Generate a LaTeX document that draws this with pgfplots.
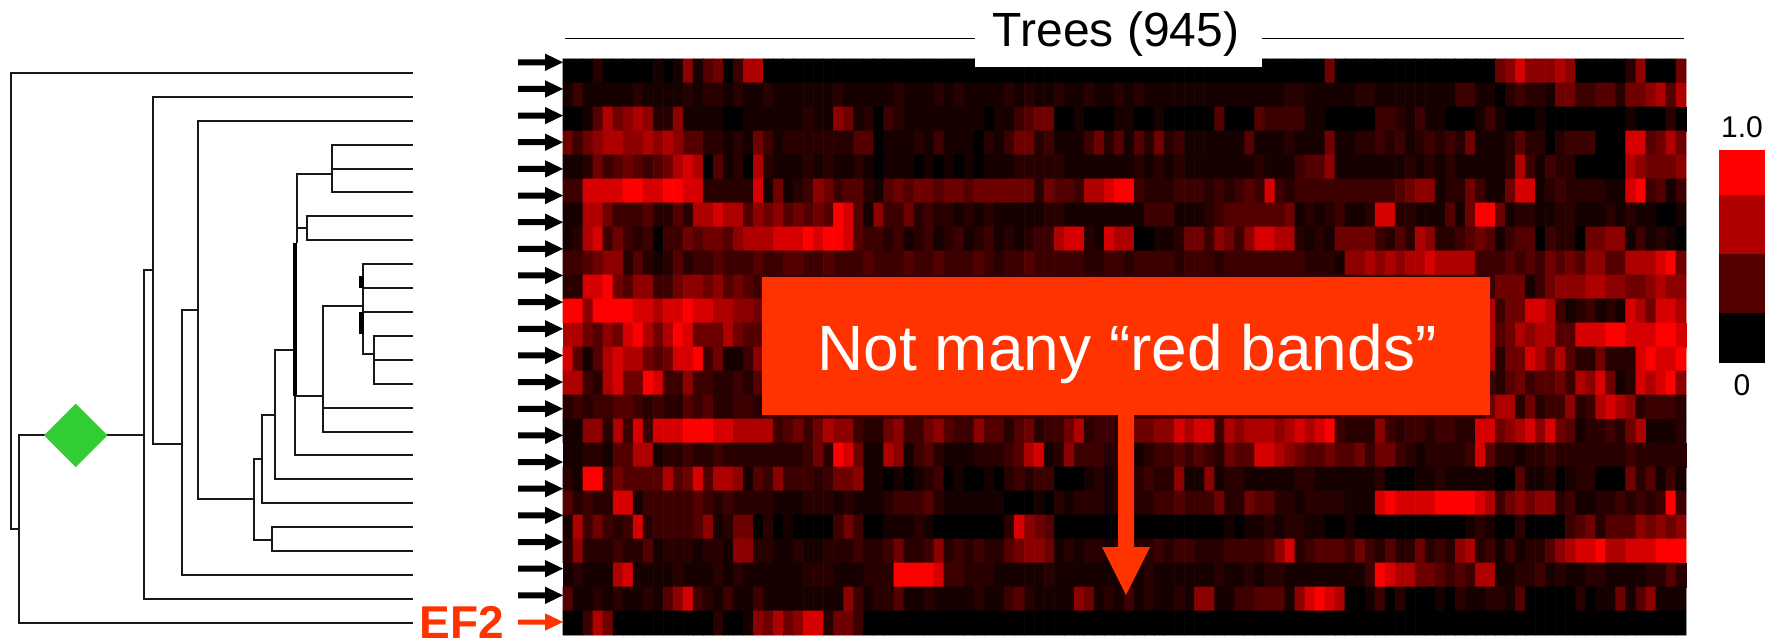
\documentclass[border=0pt]{standalone}
\usepackage{fontspec}
\setmainfont{Liberation Sans}
\usepackage{pgfplots}
\pgfplotsset{compat=1.18}
\definecolor{callout}{RGB}{255,51,0}
\definecolor{diamondgreen}{RGB}{50,205,50}
\pgfplotsset{
    tree/.style={black!90, line width=1pt, no marks, line join=miter},
    thick branch/.style={black, line width=2.2pt, no marks},
    block/.style={draw=none, no marks},
}
\newcommand{\fs}[1]{\fontsize{#1}{#1}\selectfont}
\begin{document}
\begin{tikzpicture}
\path[use as bounding box] (0,0) rectangle (887.5pt,320.5pt);
% 1 unit = 1 pixel of the reference, y runs downwards
\begin{axis}[
    at={(0,0)}, anchor=south west,
    scale only axis, width=887.5pt, height=320.5pt,
    xmin=0, xmax=1775, ymin=0, ymax=641,
    y dir=reverse,
    hide axis, clip=false,
    colormap={blackred}{rgb255(0cm)=(0,0,0) rgb255(1cm)=(22,0,0) rgb255(2cm)=(40,0,0) rgb255(3cm)=(60,0,0) rgb255(4cm)=(85,0,0) rgb255(5cm)=(110,0,0) rgb255(6cm)=(140,0,0) rgb255(7cm)=(175,0,0) rgb255(8cm)=(215,0,0) rgb255(9cm)=(255,0,0)},
    point meta min=0, point meta max=9,
]
% heatmap: 24 rows of 112 binned columns, values 0-9
\addplot[matrix plot*, mesh/cols=112, point meta=explicit, draw=mapped color, line width=0.4pt] table[
    row sep=\\, meta=z,
    x expr={563+(mod(\coordindex,112)+0.5)*10.027},
    y expr={59+(floor(\coordindex/112)+0.5)*24},
] {z\\
0\\0\\0\\2\\0\\0\\0\\0\\0\\1\\0\\1\\6\\1\\4\\5\\0\\3\\7\\7\\0\\0\\0\\0\\0\\0\\0\\0\\0\\0\\0\\0\\0\\0\\0\\0\\0\\0\\0\\0\\0\\0\\0\\0\\0\\0\\0\\0\\0\\0\\0\\0\\0\\0\\0\\0\\0\\0\\0\\0\\0\\0\\0\\0\\0\\0\\0\\0\\0\\0\\0\\0\\0\\0\\0\\0\\5\\0\\0\\0\\0\\0\\0\\0\\0\\0\\0\\0\\0\\0\\0\\0\\0\\5\\6\\8\\6\\6\\6\\7\\6\\0\\0\\0\\0\\0\\2\\6\\0\\0\\0\\5\\
1\\3\\1\\1\\1\\1\\1\\2\\1\\1\\1\\1\\2\\1\\2\\2\\1\\2\\1\\1\\2\\1\\1\\1\\1\\1\\1\\2\\1\\1\\1\\1\\1\\2\\1\\1\\1\\2\\1\\2\\1\\1\\1\\1\\2\\1\\2\\1\\1\\2\\1\\1\\2\\1\\1\\2\\1\\2\\1\\1\\1\\1\\1\\1\\1\\1\\1\\1\\1\\1\\1\\1\\2\\2\\1\\1\\1\\1\\1\\2\\2\\1\\1\\1\\1\\1\\1\\1\\1\\3\\3\\1\\1\\0\\2\\3\\2\\2\\1\\5\\5\\3\\3\\4\\4\\2\\5\\5\\6\\7\\4\\7\\
0\\0\\1\\4\\7\\5\\6\\7\\6\\2\\2\\6\\1\\1\\1\\1\\0\\0\\1\\1\\1\\1\\1\\1\\2\\1\\1\\6\\5\\1\\2\\0\\3\\2\\1\\1\\1\\1\\1\\1\\1\\1\\0\\1\\1\\3\\4\\5\\5\\0\\0\\1\\0\\0\\0\\1\\1\\0\\0\\1\\0\\0\\0\\0\\0\\4\\0\\0\\0\\4\\3\\3\\3\\3\\1\\1\\0\\0\\0\\0\\0\\3\\3\\2\\1\\3\\1\\1\\0\\0\\0\\1\\3\\1\\0\\0\\0\\1\\0\\0\\0\\0\\0\\0\\0\\0\\1\\0\\0\\0\\2\\0\\
5\\3\\5\\6\\7\\7\\6\\6\\7\\6\\7\\6\\4\\4\\2\\2\\1\\2\\1\\5\\3\\1\\2\\2\\2\\2\\2\\2\\2\\4\\4\\0\\1\\1\\1\\2\\1\\3\\1\\1\\1\\0\\2\\1\\3\\5\\5\\2\\3\\1\\1\\1\\3\\5\\2\\4\\1\\4\\2\\5\\2\\3\\1\\1\\1\\1\\1\\1\\4\\1\\1\\1\\2\\1\\1\\1\\5\\1\\1\\2\\2\\3\\2\\3\\1\\2\\3\\2\\3\\2\\5\\1\\1\\1\\2\\4\\2\\2\\0\\2\\3\\3\\3\\0\\0\\0\\8\\8\\4\\5\\7\\5\\
1\\1\\2\\5\\3\\4\\5\\4\\3\\4\\5\\7\\8\\7\\0\\4\\1\\2\\0\\7\\2\\1\\1\\1\\2\\1\\2\\1\\1\\2\\1\\0\\1\\1\\1\\0\\1\\0\\1\\0\\1\\0\\1\\1\\1\\2\\2\\2\\2\\2\\1\\1\\1\\1\\1\\1\\1\\2\\1\\2\\1\\2\\1\\1\\1\\1\\1\\1\\1\\2\\1\\1\\1\\3\\4\\4\\6\\1\\1\\1\\1\\1\\1\\1\\2\\1\\2\\1\\2\\1\\1\\1\\1\\1\\2\\7\\3\\1\\3\\2\\2\\0\\0\\0\\0\\0\\7\\6\\5\\5\\5\\6\\
3\\3\\8\\8\\8\\8\\9\\9\\8\\8\\9\\9\\8\\8\\2\\2\\2\\2\\2\\8\\1\\5\\1\\2\\3\\6\\5\\3\\4\\4\\2\\1\\4\\5\\4\\5\\5\\4\\5\\5\\4\\5\\5\\5\\5\\5\\5\\2\\5\\4\\4\\3\\7\\7\\8\\9\\9\\3\\2\\2\\2\\3\\3\\3\\2\\3\\2\\3\\4\\3\\8\\3\\2\\3\\3\\3\\3\\3\\3\\3\\3\\3\\3\\4\\5\\6\\6\\1\\2\\2\\5\\3\\1\\1\\5\\8\\8\\1\\2\\3\\2\\2\\2\\2\\1\\1\\8\\9\\3\\4\\1\\3\\
1\\1\\7\\7\\5\\3\\3\\3\\4\\2\\2\\4\\2\\7\\7\\8\\7\\7\\4\\6\\5\\6\\4\\5\\4\\5\\4\\9\\8\\4\\1\\6\\3\\3\\5\\2\\3\\2\\2\\1\\2\\1\\2\\1\\1\\1\\1\\1\\2\\2\\1\\1\\1\\1\\1\\1\\1\\1\\3\\3\\3\\1\\1\\1\\2\\3\\4\\4\\4\\4\\4\\4\\5\\1\\2\\1\\2\\3\\1\\1\\2\\8\\8\\2\\2\\1\\1\\1\\4\\1\\5\\9\\9\\5\\1\\2\\2\\1\\1\\2\\2\\1\\1\\1\\2\\1\\2\\1\\1\\0\\0\\1\\
1\\2\\7\\8\\3\\5\\3\\2\\3\\0\\3\\3\\5\\4\\5\\5\\4\\6\\7\\7\\7\\8\\8\\8\\9\\8\\9\\9\\8\\4\\3\\3\\2\\3\\1\\2\\3\\1\\2\\3\\1\\2\\3\\1\\2\\1\\2\\3\\3\\7\\8\\8\\2\\1\\8\\7\\7\\0\\0\\1\\1\\2\\5\\5\\3\\6\\5\\3\\6\\8\\8\\7\\7\\2\\1\\2\\1\\5\\5\\5\\5\\3\\2\\4\\2\\7\\6\\2\\2\\3\\4\\5\\4\\1\\3\\4\\4\\0\\3\\2\\2\\0\\5\\5\\6\\6\\1\\3\\1\\2\\1\\0\\
3\\3\\4\\5\\6\\6\\2\\4\\2\\1\\2\\4\\2\\3\\3\\4\\3\\3\\3\\4\\3\\3\\4\\4\\3\\3\\4\\3\\3\\3\\4\\3\\3\\3\\4\\3\\3\\4\\3\\3\\3\\4\\3\\2\\3\\3\\4\\3\\3\\3\\3\\3\\2\\2\\3\\3\\2\\3\\3\\3\\3\\2\\3\\3\\3\\2\\3\\3\\3\\3\\3\\3\\3\\3\\2\\2\\2\\1\\6\\6\\7\\6\\7\\6\\7\\7\\8\\7\\7\\7\\7\\3\\3\\3\\4\\3\\4\\3\\5\\4\\5\\4\\6\\6\\4\\4\\7\\7\\7\\8\\9\\5\\
2\\2\\8\\8\\9\\5\\4\\6\\6\\3\\3\\5\\6\\6\\5\\6\\4\\5\\4\\3\\3\\3\\3\\3\\3\\3\\3\\3\\3\\3\\3\\3\\3\\3\\3\\3\\3\\3\\3\\3\\3\\3\\3\\3\\3\\3\\3\\3\\3\\3\\3\\3\\3\\3\\3\\3\\3\\3\\3\\3\\3\\3\\3\\3\\3\\3\\3\\3\\3\\3\\3\\3\\3\\3\\3\\3\\3\\3\\3\\3\\3\\3\\3\\3\\3\\3\\3\\3\\3\\3\\3\\3\\3\\5\\5\\5\\1\\3\\5\\6\\6\\6\\7\\7\\6\\6\\5\\5\\6\\7\\6\\6\\
9\\9\\6\\9\\9\\9\\9\\8\\8\\7\\8\\8\\9\\8\\8\\7\\7\\6\\6\\5\\3\\3\\3\\3\\3\\3\\3\\3\\3\\3\\3\\3\\3\\3\\3\\3\\3\\3\\3\\3\\3\\3\\3\\3\\3\\3\\3\\3\\3\\3\\3\\3\\3\\3\\3\\3\\3\\3\\3\\3\\3\\3\\3\\3\\3\\3\\3\\3\\3\\3\\3\\3\\3\\3\\3\\3\\3\\3\\3\\3\\3\\3\\3\\3\\3\\3\\3\\3\\3\\3\\3\\3\\7\\3\\5\\5\\8\\8\\7\\3\\1\\2\\3\\1\\2\\1\\8\\7\\5\\8\\8\\7\\
7\\7\\5\\4\\6\\5\\8\\9\\7\\5\\7\\9\\8\\5\\5\\5\\7\\5\\4\\4\\3\\3\\3\\3\\3\\3\\3\\3\\3\\3\\3\\3\\3\\3\\3\\3\\3\\3\\3\\3\\3\\3\\3\\3\\3\\3\\3\\3\\3\\3\\3\\3\\3\\3\\3\\3\\3\\3\\3\\3\\3\\3\\3\\3\\3\\3\\3\\3\\3\\3\\3\\3\\3\\3\\3\\3\\3\\3\\3\\3\\3\\3\\3\\3\\3\\3\\3\\3\\3\\3\\3\\3\\7\\4\\5\\7\\6\\7\\7\\4\\4\\8\\8\\8\\9\\9\\8\\8\\8\\9\\9\\8\\
8\\4\\1\\4\\7\\8\\7\\7\\5\\4\\5\\8\\8\\9\\3\\5\\1\\1\\3\\6\\3\\3\\3\\3\\3\\3\\3\\3\\3\\3\\3\\3\\3\\3\\3\\3\\3\\3\\3\\3\\3\\3\\3\\3\\3\\3\\3\\3\\3\\3\\3\\3\\3\\3\\3\\3\\3\\3\\3\\3\\3\\3\\3\\3\\3\\3\\3\\3\\3\\3\\3\\3\\3\\3\\3\\3\\3\\3\\3\\3\\3\\3\\3\\3\\3\\3\\3\\3\\3\\3\\3\\3\\7\\2\\5\\5\\8\\7\\5\\7\\4\\2\\2\\5\\2\\2\\2\\8\\9\\8\\8\\9\\
7\\7\\3\\2\\7\\8\\5\\5\\9\\8\\3\\3\\6\\3\\3\\2\\2\\3\\2\\4\\3\\3\\3\\3\\3\\3\\3\\3\\3\\3\\3\\3\\3\\3\\3\\3\\3\\3\\3\\3\\3\\3\\3\\3\\3\\3\\3\\3\\3\\3\\3\\3\\3\\3\\3\\3\\3\\3\\3\\3\\3\\3\\3\\3\\3\\3\\3\\3\\3\\3\\3\\3\\3\\3\\3\\3\\3\\3\\3\\3\\3\\3\\3\\3\\3\\3\\3\\3\\3\\3\\3\\3\\3\\2\\4\\5\\3\\4\\4\\5\\3\\7\\6\\8\\5\\1\\2\\8\\7\\8\\9\\6\\
2\\3\\2\\3\\3\\4\\4\\3\\2\\3\\2\\2\\4\\3\\4\\2\\2\\3\\3\\2\\3\\3\\3\\3\\3\\3\\3\\3\\3\\3\\3\\3\\3\\3\\3\\3\\3\\3\\3\\3\\3\\3\\3\\3\\3\\3\\3\\3\\3\\3\\3\\3\\3\\3\\3\\3\\3\\3\\3\\3\\3\\3\\3\\3\\3\\3\\3\\3\\3\\3\\3\\3\\3\\3\\3\\3\\3\\3\\3\\3\\3\\3\\3\\3\\3\\3\\3\\3\\3\\3\\3\\3\\5\\7\\7\\2\\5\\2\\3\\3\\6\\2\\3\\7\\8\\7\\6\\2\\3\\3\\3\\2\\
1\\1\\6\\6\\2\\7\\3\\8\\3\\8\\8\\8\\9\\9\\9\\8\\8\\7\\7\\7\\7\\3\\4\\5\\3\\5\\7\\6\\6\\3\\2\\2\\5\\6\\3\\3\\5\\6\\4\\3\\3\\6\\4\\4\\2\\4\\5\\2\\3\\3\\5\\7\\2\\3\\3\\2\\3\\5\\5\\6\\6\\8\\7\\8\\8\\3\\7\\6\\7\\7\\7\\6\\7\\8\\7\\8\\9\\3\\2\\2\\2\\6\\3\\2\\3\\3\\2\\3\\3\\2\\2\\8\\8\\5\\6\\7\\8\\6\\8\\5\\4\\1\\2\\2\\3\\2\\5\\7\\1\\1\\1\\2\\
1\\1\\2\\2\\1\\4\\4\\7\\7\\1\\2\\2\\3\\2\\2\\3\\2\\2\\2\\2\\2\\2\\2\\2\\3\\5\\2\\9\\8\\5\\1\\1\\7\\6\\1\\3\\4\\2\\1\\1\\1\\2\\2\\2\\3\\4\\7\\8\\1\\2\\6\\3\\3\\3\\2\\2\\2\\1\\2\\3\\3\\4\\3\\4\\3\\2\\5\\4\\4\\8\\8\\7\\6\\5\\4\\4\\5\\4\\4\\5\\3\\5\\5\\3\\2\\1\\2\\2\\2\\2\\3\\8\\4\\2\\2\\1\\2\\2\\3\\2\\2\\2\\2\\2\\2\\2\\3\\2\\2\\2\\2\\2\\
2\\1\\9\\9\\3\\5\\4\\4\\4\\4\\7\\4\\5\\8\\4\\7\\7\\6\\1\\4\\3\\6\\3\\3\\3\\2\\3\\5\\5\\6\\1\\1\\0\\1\\0\\1\\2\\3\\0\\1\\0\\0\\1\\0\\2\\3\\2\\3\\3\\0\\0\\0\\1\\2\\1\\2\\2\\2\\3\\2\\2\\6\\1\\1\\6\\1\\2\\2\\1\\1\\1\\1\\1\\2\\2\\1\\1\\1\\1\\1\\1\\2\\0\\0\\0\\1\\1\\2\\1\\1\\1\\1\\1\\0\\0\\4\\1\\1\\2\\0\\1\\2\\2\\0\\0\\0\\5\\2\\4\\1\\3\\1\\
4\\2\\3\\2\\2\\8\\8\\1\\3\\3\\3\\3\\3\\4\\3\\2\\3\\2\\2\\2\\2\\1\\1\\1\\2\\2\\2\\1\\2\\1\\1\\1\\2\\3\\3\\3\\4\\2\\1\\1\\1\\1\\1\\1\\0\\0\\0\\1\\0\\2\\1\\2\\2\\2\\1\\2\\3\\2\\2\\3\\3\\4\\3\\3\\3\\5\\2\\2\\5\\4\\4\\2\\2\\1\\2\\2\\2\\2\\1\\1\\1\\8\\9\\8\\8\\8\\8\\9\\9\\9\\9\\8\\7\\3\\5\\6\\5\\6\\6\\2\\3\\1\\1\\2\\2\\3\\2\\3\\2\\3\\9\\3\\
1\\7\\3\\5\\3\\2\\3\\8\\2\\3\\3\\3\\3\\4\\6\\1\\2\\5\\5\\0\\2\\0\\1\\0\\0\\0\\0\\3\\5\\3\\0\\0\\1\\1\\1\\2\\1\\0\\0\\0\\0\\0\\0\\0\\2\\8\\6\\5\\4\\0\\0\\0\\0\\0\\0\\0\\0\\0\\0\\0\\0\\0\\0\\0\\0\\0\\1\\0\\1\\1\\2\\1\\2\\2\\1\\1\\0\\0\\1\\0\\0\\0\\0\\0\\0\\0\\0\\0\\0\\0\\1\\2\\1\\0\\0\\2\\0\\0\\0\\0\\3\\4\\5\\2\\4\\4\\4\\6\\5\\6\\5\\6\\
2\\6\\2\\2\\2\\3\\2\\2\\4\\1\\2\\2\\2\\1\\2\\2\\1\\6\\6\\2\\2\\1\\1\\2\\1\\1\\2\\2\\2\\3\\2\\2\\3\\5\\2\\2\\3\\6\\2\\3\\2\\3\\2\\2\\4\\5\\6\\6\\5\\1\\2\\1\\2\\2\\1\\2\\1\\2\\2\\3\\2\\3\\3\\2\\2\\2\\3\\3\\3\\3\\4\\6\\8\\2\\3\\4\\4\\4\\3\\5\\3\\2\\4\\2\\2\\5\\2\\3\\2\\6\\7\\2\\3\\1\\3\\1\\2\\2\\4\\6\\7\\8\\8\\9\\7\\7\\8\\8\\8\\9\\9\\9\\
1\\2\\1\\1\\1\\7\\8\\1\\1\\1\\1\\2\\1\\1\\1\\2\\1\\2\\1\\1\\1\\1\\1\\1\\2\\2\\2\\1\\1\\1\\2\\2\\2\\9\\9\\9\\9\\8\\3\\3\\2\\2\\2\\1\\1\\1\\1\\1\\2\\1\\1\\1\\1\\1\\1\\1\\1\\1\\2\\1\\1\\1\\1\\1\\1\\2\\1\\1\\2\\1\\2\\2\\1\\1\\1\\1\\1\\1\\1\\1\\3\\9\\8\\7\\7\\5\\5\\4\\3\\4\\3\\7\\7\\1\\1\\2\\2\\3\\1\\2\\1\\1\\2\\2\\1\\1\\1\\1\\2\\2\\4\\2\\
4\\1\\1\\2\\1\\2\\1\\1\\2\\1\\4\\6\\8\\3\\2\\1\\3\\1\\1\\3\\1\\1\\1\\1\\1\\1\\1\\1\\6\\3\\1\\2\\2\\4\\1\\1\\2\\1\\1\\1\\1\\2\\1\\1\\3\\4\\2\\1\\1\\1\\1\\6\\5\\1\\2\\1\\3\\1\\2\\1\\1\\2\\1\\6\\6\\1\\1\\3\\3\\4\\4\\4\\1\\6\\8\\9\\8\\7\\0\\0\\1\\3\\0\\2\\0\\0\\0\\1\\0\\2\\1\\1\\2\\2\\1\\4\\0\\0\\0\\0\\0\\2\\0\\1\\1\\5\\1\\4\\6\\1\\1\\1\\
0\\0\\3\\7\\5\\0\\0\\0\\0\\0\\0\\0\\0\\0\\0\\2\\0\\0\\1\\6\\5\\7\\5\\6\\8\\8\\2\\5\\5\\3\\0\\0\\0\\0\\0\\0\\0\\0\\0\\0\\0\\0\\0\\0\\0\\0\\0\\0\\0\\0\\0\\0\\0\\0\\0\\0\\0\\0\\0\\0\\0\\0\\0\\0\\0\\0\\0\\0\\0\\0\\0\\0\\0\\0\\0\\0\\0\\0\\0\\0\\0\\0\\0\\0\\0\\0\\0\\0\\0\\0\\0\\0\\0\\0\\0\\0\\0\\0\\0\\0\\0\\0\\0\\0\\0\\0\\0\\0\\0\\0\\0\\0\\
};
% tree
\addplot[tree] coordinates {(413,73) (11,73) (11,529) (19,529)};
\addplot[tree] coordinates {(413,622.7) (19,622.7) (19,435.4) (144.3,435.4)};
\addplot[tree] coordinates {(413,598.8) (144.3,598.8) (144.3,270.4) (152.7,270.4)};
\addplot[tree] coordinates {(413,96.9) (152.7,96.9) (152.7,443.5) (181.7,443.5)};
\addplot[tree] coordinates {(413,574.9) (181.7,574.9) (181.7,310) (198,310)};
\addplot[tree] coordinates {(413,120.8) (198,120.8) (198,499.3) (254,499.3)};
\addplot[tree] coordinates {(261.7,459.4) (254,459.4) (254,539.5) (272.3,539.5)};
\addplot[tree] coordinates {(413,527.1) (272.3,527.1) (272.3,551) (413,551)};
\addplot[tree] coordinates {(413,503.2) (261.7,503.2) (261.7,415.4) (275.3,415.4)};
\addplot[tree] coordinates {(413,479.3) (275.3,479.3) (275.3,349.9) (294.7,349.9)};
\addplot[tree] coordinates {(413,455.4) (294.7,455.4) (294.7,395.5) (323.3,395.5)};
\addplot[thick branch] coordinates {(294.7,243.4) (294.7,395.5)};
\addplot[tree] coordinates {(296.7,243.4) (296.7,174.4) (331.7,174.4)};
\addplot[tree] coordinates {(413,144.7) (331.7,144.7) (331.7,192.5) (413,192.5)};
\addplot[tree] coordinates {(331.7,168.6) (413,168.6)};
\addplot[tree] coordinates {(296.7,228) (307.3,228)};
\addplot[tree] coordinates {(413,216.4) (307.3,216.4) (307.3,240.3) (413,240.3)};
\addplot[tree] coordinates {(413,407.6) (323.3,407.6)};
\addplot[tree] coordinates {(413,431.5) (323.3,431.5) (323.3,306) (361.7,306)};
\addplot[tree] coordinates {(413,264.2) (363.3,264.2) (363.3,354) (374.3,354)};
\addplot[tree] coordinates {(413,288.1) (363.3,288.1)};
\addplot[tree] coordinates {(413,312) (363.3,312)};
\addplot[thick branch] coordinates {(361.5,276) (361.5,288)};
\addplot[thick branch] coordinates {(361.5,312) (361.5,334)};
\addplot[tree] coordinates {(413,335.9) (374.3,335.9) (374.3,383.7) (413,383.7)};
\addplot[tree] coordinates {(374.3,359.8) (413,359.8)};
\addplot[block, fill=diamondgreen] coordinates {(75.7,403.6) (107.4,435.4) (75.7,467.2) (44,435.4)} --cycle;
% colour scale
\addplot[block, fill={rgb,255:red,255;green,0;blue,0}] coordinates {(1719,150) (1765,150) (1765,195) (1719,195)} --cycle;
\addplot[block, fill={rgb,255:red,176;green,0;blue,0}] coordinates {(1719,195) (1765,195) (1765,254) (1719,254)} --cycle;
\addplot[block, fill={rgb,255:red,85;green,0;blue,0}] coordinates {(1719,254) (1765,254) (1765,313) (1719,313)} --cycle;
\addplot[block, fill=black] coordinates {(1719,313) (1765,313) (1765,363) (1719,363)} --cycle;
% title with its rule
\addplot[black, line width=0.75pt, no marks] coordinates {(565,38.5) (1684,38.5)};
\addplot[block, fill=white] coordinates {(975,20) (1262,20) (1262,66.7) (975,66.7)} --cycle;
% callout
\addplot[block, fill=callout] coordinates {(762,276.7) (1490,276.7) (1490,415) (762,415)} --cycle;
\addplot[block, fill=callout] coordinates {(1118,415) (1134,415) (1134,547) (1150,547) (1126,595) (1102,547) (1118,547)} --cycle;
% row arrows
\pgfplotsinvokeforeach{0,...,20}{
  \fill[black] (axis cs:518,{59.3+26.65*#1}) -- (axis cs:545,{59.3+26.65*#1}) -- (axis cs:545,{53.6+26.65*#1})
     -- (axis cs:563,{62.3+26.65*#1}) -- (axis cs:545,{71+26.65*#1}) -- (axis cs:545,{65.3+26.65*#1}) -- (axis cs:518,{65.3+26.65*#1}) -- cycle;
}
\fill[callout] (axis cs:518,619.5) -- (axis cs:545,619.5) -- (axis cs:545,613.3) -- (axis cs:563,622) -- (axis cs:545,630.7) -- (axis cs:545,624.5) -- (axis cs:518,624.5) -- cycle;
\node[anchor=base] at (axis cs:1116,47) {\fs{24pt}Trees (945)};
\node[anchor=base, text=white] at (axis cs:1127,371) {\fs{32pt}Not many “red bands”};
\node[anchor=base west, inner sep=0pt, text=callout] at (axis cs:419,638) {\fs{23pt}\bfseries EF2};
\node[anchor=base] at (axis cs:1742,138) {\fs{15pt}1.0};
\node[anchor=base] at (axis cs:1742,395) {\fs{15pt}0};
\end{axis}
\end{tikzpicture}
\end{document}
